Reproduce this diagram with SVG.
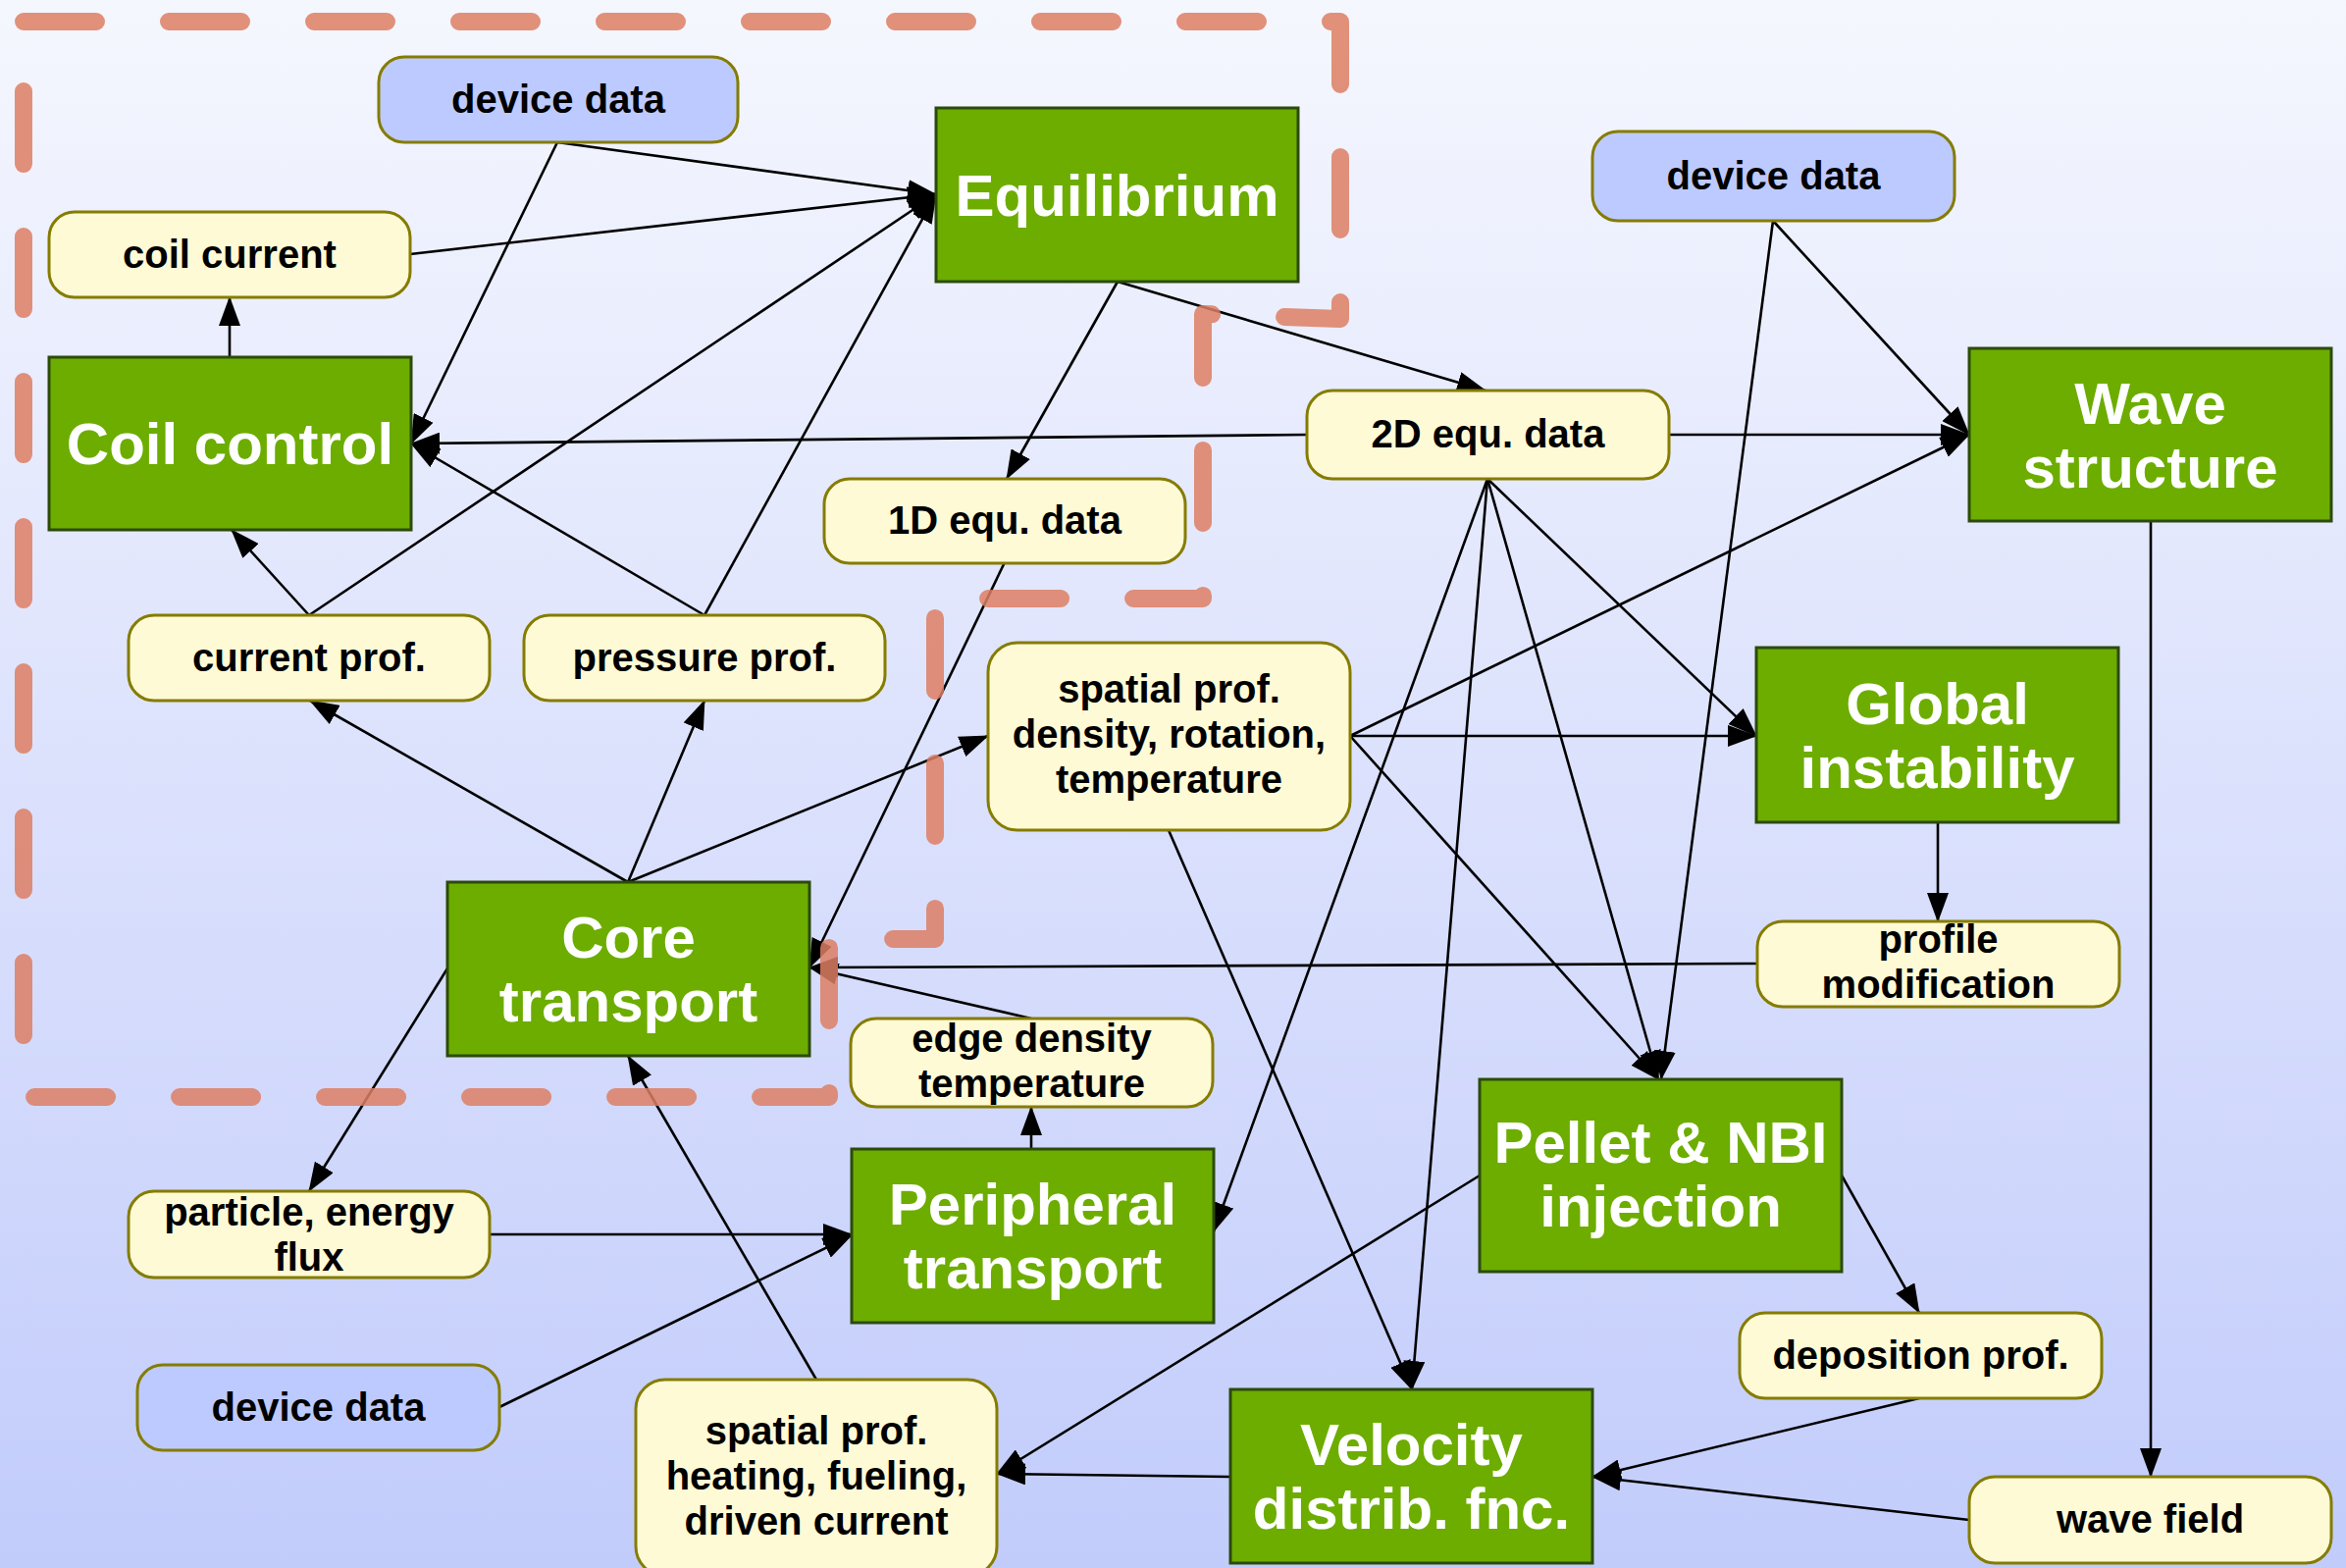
<svg xmlns="http://www.w3.org/2000/svg" width="2391" height="1598" viewBox="0 0 2391 1598">
<defs>
<linearGradient id="bg" x1="0" y1="0" x2="0" y2="1">
<stop offset="0" stop-color="#f5f7fe"/>
<stop offset="1" stop-color="#c2ccfb"/>
</linearGradient>
<marker id="ah" markerUnits="userSpaceOnUse" markerWidth="30" markerHeight="22" refX="29" refY="11" orient="auto">
<path d="M0,0 L30,11 L0,22 z" fill="#000"/>
</marker>
<style>
.g rect{fill:#6cad00;stroke:#2c4a0c;stroke-width:3}
.g text{fill:#fff;font-family:"Liberation Sans",Arial,sans-serif;font-weight:bold;font-size:60px;text-anchor:middle}
.p rect{fill:#fffad6;stroke:#857c00;stroke-width:3}
.b rect{fill:#bdcaff;stroke:#857c00;stroke-width:3}
.p text,.b text{fill:#000;font-family:"Liberation Sans",Arial,sans-serif;font-weight:bold;font-size:40px;text-anchor:middle}
#connectors line{stroke:#000;stroke-width:2.6;marker-end:url(#ah)}
</style>
</defs>
<rect x="0" y="0" width="2391" height="1598" fill="url(#bg)"/>

<g id="connectors">
<line x1="568" y1="145" x2="954" y2="198"/>
<line x1="568" y1="145" x2="419" y2="452"/>
<line x1="418" y1="259" x2="954" y2="198"/>
<line x1="234" y1="364" x2="234" y2="303"/>
<line x1="1332" y1="443" x2="419" y2="452"/>
<line x1="315" y1="627" x2="236" y2="540"/>
<line x1="315" y1="627" x2="954" y2="198"/>
<line x1="718" y1="627" x2="419" y2="452"/>
<line x1="718" y1="627" x2="954" y2="198"/>
<line x1="1139" y1="287" x2="1514" y2="398"/>
<line x1="1139" y1="287" x2="1026" y2="488"/>
<line x1="1701" y1="443" x2="2007" y2="443"/>
<line x1="1807" y1="225" x2="2007" y2="443"/>
<line x1="1807" y1="225" x2="1693" y2="1100"/>
<line x1="1376" y1="750" x2="2007" y2="443"/>
<line x1="1376" y1="750" x2="1790" y2="750"/>
<line x1="1376" y1="750" x2="1690" y2="1100"/>
<line x1="1516" y1="488" x2="1790" y2="750"/>
<line x1="1516" y1="488" x2="1690" y2="1100"/>
<line x1="1516" y1="488" x2="1439" y2="1416"/>
<line x1="1516" y1="488" x2="1237" y2="1255"/>
<line x1="1191" y1="846" x2="1439" y2="1416"/>
<line x1="1975" y1="838" x2="1975" y2="939"/>
<line x1="1791" y1="982" x2="825" y2="986"/>
<line x1="2192" y1="531" x2="2192" y2="1505"/>
<line x1="1024" y1="573" x2="825" y2="986"/>
<line x1="640" y1="899" x2="316" y2="714"/>
<line x1="640" y1="899" x2="718" y2="714"/>
<line x1="640" y1="899" x2="1007" y2="750"/>
<line x1="1051" y1="1038" x2="825" y2="986"/>
<line x1="1051" y1="1171" x2="1051" y2="1128"/>
<line x1="456" y1="987" x2="315" y2="1214"/>
<line x1="499" y1="1258" x2="868" y2="1258"/>
<line x1="509" y1="1434" x2="868" y2="1259"/>
<line x1="832" y1="1406" x2="640" y2="1076"/>
<line x1="1254" y1="1505" x2="1016" y2="1502"/>
<line x1="1508" y1="1198" x2="1016" y2="1502"/>
<line x1="1877" y1="1198" x2="1956" y2="1338"/>
<line x1="1956" y1="1425" x2="1623" y2="1505"/>
<line x1="2007" y1="1549" x2="1623" y2="1505"/>
</g>

<g id="n-device-data-1" class="b"><rect x="386" y="58" width="366" height="87" rx="26"/><text x="569" y="115">device data</text></g>
<g id="n-coil-current" class="p"><rect x="50" y="216" width="368" height="87" rx="26"/><text x="234" y="273">coil current</text></g>
<g id="n-coil-control" class="g"><rect x="50" y="364" width="369" height="176"/><text x="234.5" y="473">Coil control</text></g>
<g id="n-equilibrium" class="g"><rect x="954" y="110" width="369" height="177"/><text x="1138.5" y="219.5">Equilibrium</text></g>
<g id="n-2d-equ" class="p"><rect x="1332" y="398" width="369" height="90" rx="26"/><text x="1516.5" y="456">2D equ. data</text></g>
<g id="n-device-data-2" class="b"><rect x="1623" y="134" width="369" height="91" rx="26"/><text x="1807.5" y="193">device data</text></g>
<g id="n-wave-structure" class="g"><rect x="2007" y="355" width="369" height="176"/><text x="2191.5" y="431.5">Wave</text><text x="2191.5" y="496.5">structure</text></g>
<g id="n-1d-equ" class="p"><rect x="840" y="488" width="368" height="86" rx="26"/><text x="1024" y="544">1D equ. data</text></g>
<g id="n-current-prof" class="p"><rect x="131" y="627" width="368" height="87" rx="26"/><text x="315" y="684">current prof.</text></g>
<g id="n-pressure-prof" class="p"><rect x="534" y="627" width="368" height="87" rx="26"/><text x="718" y="684">pressure prof.</text></g>
<g id="n-spatial-density" class="p"><rect x="1007" y="655" width="369" height="191" rx="30"/><text x="1191.5" y="716">spatial prof.</text><text x="1191.5" y="762">density, rotation,</text><text x="1191.5" y="808">temperature</text></g>
<g id="n-global-instability" class="g"><rect x="1790" y="660" width="369" height="178"/><text x="1974.5" y="737.5">Global</text><text x="1974.5" y="802.5">instability</text></g>
<g id="n-profile-mod" class="p"><rect x="1791" y="939" width="369" height="87" rx="26"/><text x="1975.5" y="971">profile</text><text x="1975.5" y="1017">modification</text></g>
<g id="n-core-transport" class="g"><rect x="456" y="899" width="369" height="177"/><text x="640.5" y="976">Core</text><text x="640.5" y="1041">transport</text></g>
<g id="n-edge" class="p"><rect x="867" y="1038" width="369" height="90" rx="26"/><text x="1051.5" y="1072">edge density</text><text x="1051.5" y="1118">temperature</text></g>
<g id="n-peripheral" class="g"><rect x="868" y="1171" width="369" height="177"/><text x="1052.5" y="1248">Peripheral</text><text x="1052.5" y="1313">transport</text></g>
<g id="n-particle-flux" class="p"><rect x="131" y="1214" width="368" height="88" rx="26"/><text x="315" y="1249">particle, energy</text><text x="315" y="1295">flux</text></g>
<g id="n-device-data-3" class="b"><rect x="140" y="1391" width="369" height="87" rx="26"/><text x="324.5" y="1448">device data</text></g>
<g id="n-spatial-heating" class="p"><rect x="648" y="1406" width="368" height="200" rx="30"/><text x="832" y="1472">spatial prof.</text><text x="832" y="1518">heating, fueling,</text><text x="832" y="1564">driven current</text></g>
<g id="n-velocity" class="g"><rect x="1254" y="1416" width="369" height="177"/><text x="1438.5" y="1493">Velocity</text><text x="1438.5" y="1558">distrib. fnc.</text></g>
<g id="n-pellet" class="g"><rect x="1508" y="1100" width="369" height="196"/><text x="1692.5" y="1185">Pellet &amp; NBI</text><text x="1692.5" y="1250">injection</text></g>
<g id="n-deposition" class="p"><rect x="1773" y="1338" width="369" height="87" rx="26"/><text x="1957.5" y="1395">deposition prof.</text></g>
<g id="n-wave-field" class="p"><rect x="2007" y="1505" width="369" height="88" rx="26"/><text x="2191.5" y="1562">wave field</text></g>

<path id="region" d="M24,22 H1366 V325 L1226,320 V610 H953 V957 H845 V1118 H24 Z" fill="none" stroke="#dd7e63" stroke-opacity="0.85" stroke-width="18" stroke-dasharray="74 74" stroke-linecap="round" stroke-linejoin="round"/>
</svg>
